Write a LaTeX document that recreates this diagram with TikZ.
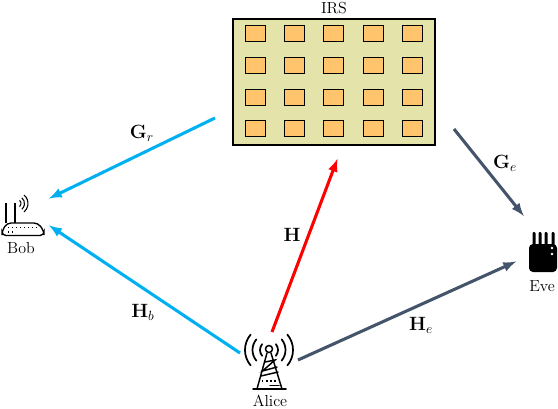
\documentclass[tikz,border=0pt]{standalone}
\usepackage{amsmath}
\usepackage{tikz}
\usetikzlibrary{positioning}
\usetikzlibrary{arrows}

\definecolor{linkblue}{RGB}{0,176,240}
\definecolor{linkgray}{RGB}{68,84,106}
\definecolor{panelfill}{RGB}{228,227,170}
\definecolor{cellfill}{RGB}{255,196,108}

\begin{document}
\begin{tikzpicture}[
    x=0.75pt, y=-0.75pt,
    >=latex,
    every node/.style={font=\large},
    panel/.style={draw, line width=1.1pt, fill=panelfill, minimum width=151.5pt, minimum height=94.5pt, inner sep=0pt},
    cell/.style={draw, line width=0.6pt, fill=cellfill, minimum width=15pt, minimum height=12pt, inner sep=0pt},
    link/.style={->, line width=2.3pt, shorten >=-1pt},
    sym/.style={font=\fontsize{14}{16}\selectfont},
    icon/.style={line width=1.1pt, line cap=round}
]
\useasboundingbox (0,0) rectangle (558,408);

% IRS
\node[panel] (irs) at (334,82) {};
\node[above=2pt of irs, inner sep=1pt] (irslabel) {IRS};
\foreach \x in {255.5,294.5,333.5,373,412} {
    \foreach \y in {33.5,65,97,128.5} {
        \node[cell] at (\x,\y) {};
    }
}

% Bob
\node[inner sep=0pt] (bob) at (21,248) {Bob};
\draw[line width=1pt, fill=white, rounded corners=3pt] (2,235.5) -- (2,231) -- (7,223) -- (38,223) -- (44,231) -- (44,235.5) -- cycle;
\draw[line width=1pt, dotted] (8,227.5) -- (40,227.5);
\draw[line width=1pt, dotted] (8,232) -- (16,232);
\draw[line width=2.2pt] (6,223) -- (6,217);
\draw[line width=2.2pt] (15,223) -- (15,217);
\draw[line width=1pt] (6,217) -- (6,203);
\draw[line width=1pt] (15,217) -- (15,203);
\foreach \r in {4,7.5,11} {
    \draw[line width=0.8pt] (17,203.5) ++(-50:\r) arc[start angle=-50, end angle=50, radius=\r];
}

% Alice
\node[inner sep=0pt] (alice) at (270,401) {Alice};
\foreach \r in {9,16.5,24} {
    \draw[icon, line width=1.3pt] (269,350) ++(-140:\r) arc[start angle=-140, end angle=-220, radius=\r];
    \draw[icon, line width=1.3pt] (269,350) ++(-40:\r) arc[start angle=-40, end angle=40, radius=\r];
}
\draw[icon] (269,349) circle[radius=3.5];
\draw[icon] (267,353) -- (257,389);
\draw[icon] (271,353) -- (282,389);
\draw[icon, line width=1.3pt] (253,389) -- (286,389);
\draw[icon] (265,362) -- (275,360) -- (262.5,371) -- (277,367);
\draw[icon] (261,376) -- (278,372);
\draw[line width=1.1pt, dotted] (262,381) -- (277,381);
\draw[icon] (270,385.5) -- (279,385.5);

% Eve
\node[inner sep=0pt] (eve) at (542,286) {Eve};
\fill[rounded corners=3pt] (529,244) rectangle (557,272);
\foreach \x in {534,540,546,553} {
    \fill[rounded corners=0.8pt] (\x-1.5,232) rectangle (\x+1.5,246);
}
\fill[white] (552,248) circle[radius=1.4];
\fill[white] (552,254) circle[radius=1.4];

% ends of the links
\coordinate (grstart) at (215,118);
\coordinate (grend) at (50,198);
\coordinate (hbstart) at (240,353);
\coordinate (hbend) at (50,226);
\coordinate (hstart) at (272,332);
\coordinate (hend) at (337,160);
\coordinate (gestart) at (454,129);
\coordinate (geend) at (523,215);
\coordinate (hestart) at (298,360);
\coordinate (heend) at (515,262);

\draw[link, linkblue] (grstart) -- (grend);
\draw[link, linkblue] (hbstart) -- (hbend);
\draw[link, red] (hstart) -- (hend);
\draw[link, linkgray] (gestart) -- (geend);
\draw[link, linkgray] (hestart) -- (heend);

\node[sym] (gr) at (142,133) {$\mathbf{G}_r$};
\node[sym] (hb) at (143,312) {$\mathbf{H}_b$};
\node[sym] (h) at (292,235) {$\mathbf{H}$};
\node[sym] (ge) at (505,163) {$\mathbf{G}_e$};
\node[sym] (he) at (421,325) {$\mathbf{H}_e$};
\end{tikzpicture}
\end{document}
